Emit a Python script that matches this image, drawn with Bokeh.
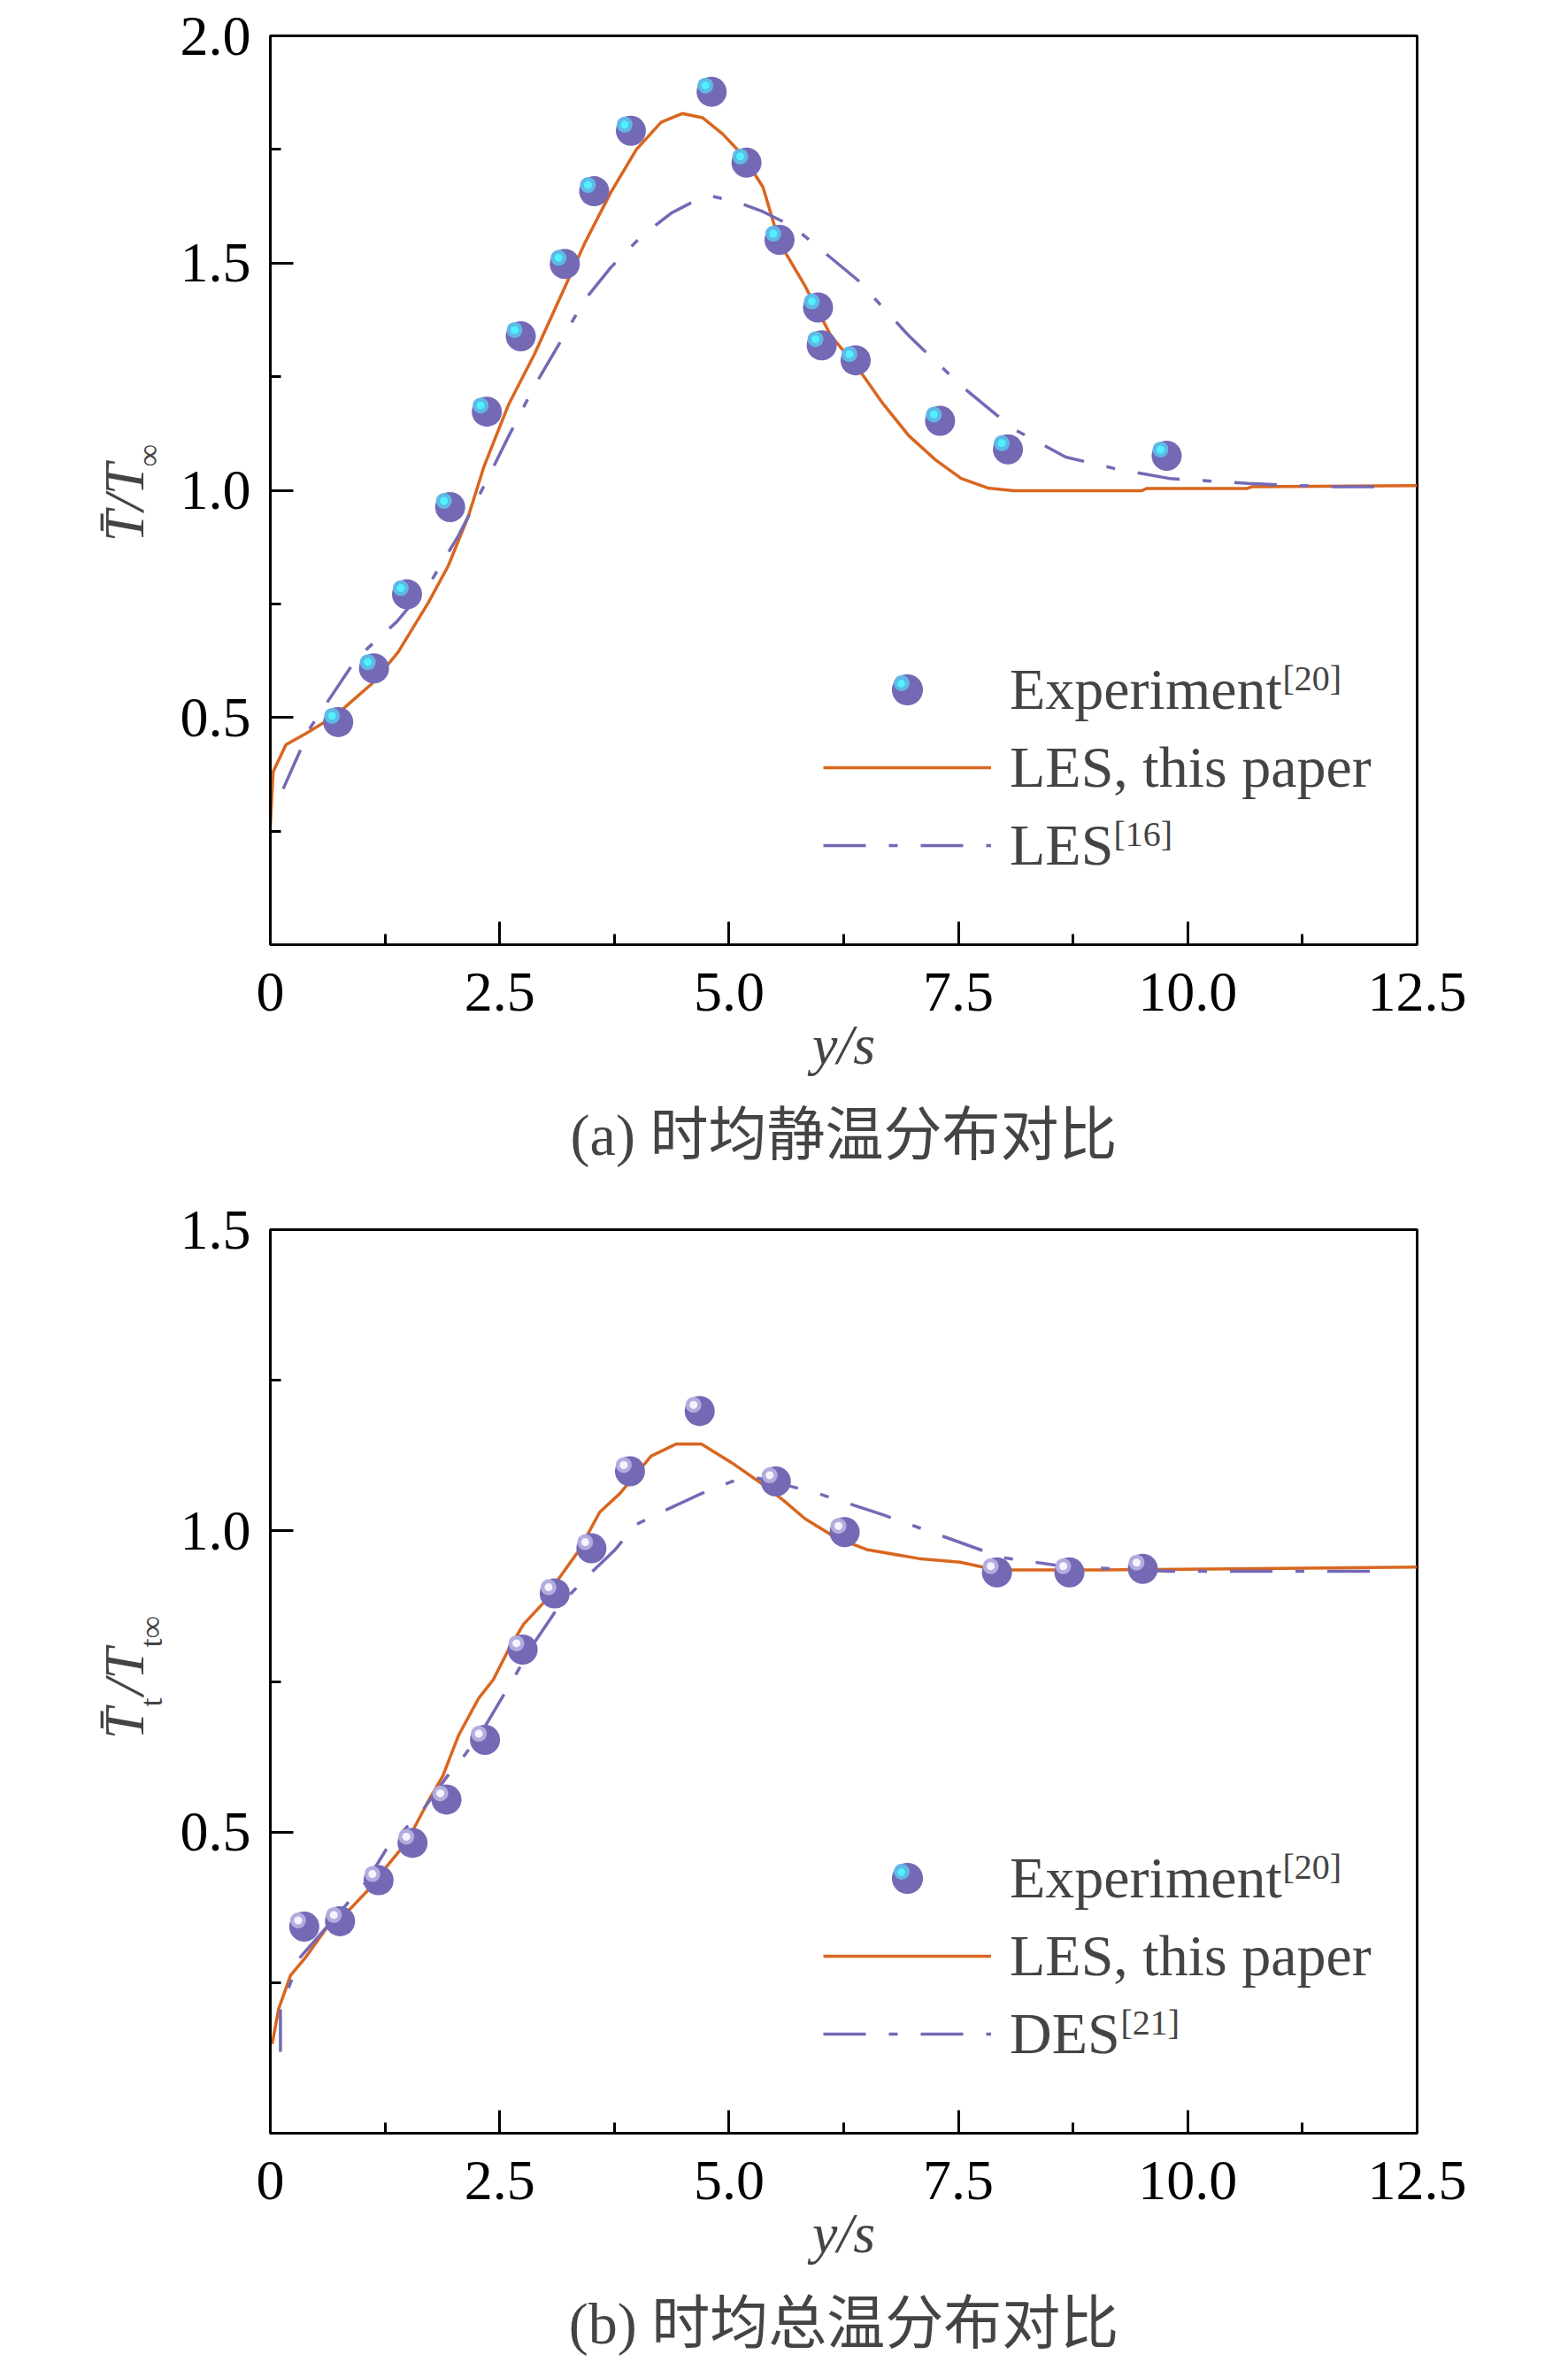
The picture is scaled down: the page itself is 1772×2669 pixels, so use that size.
import math
import bokeh.plotting as bplt
import bokeh.models as bmod
from bokeh.layouts import column, row
from bokeh.transform import dodge
from bokeh.embed import file_html
from bokeh.resources import INLINE

SERIF = "Liberation Serif"
CAPTION_FONT = "Liberation Serif, Noto Sans CJK SC"
ORANGE = "#d9661f"
PURPLE = "#7469b5"
LABEL_W = 200

# shared x axis
x_ticks = [0, 2.5, 5.0, 7.5, 10.0, 12.5]
x_tick_labels = ["0", "2.5", "5.0", "7.5", "10.0", "12.5"]
x_minor = [1.25, 3.75, 6.25, 8.75, 11.25]

# (a) static temperature
a_y_ticks = [0.5, 1.0, 1.5, 2.0]
a_y_tick_labels = ["0.5", "1.0", "1.5", "2.0"]
a_y_minor = [0.25, 0.75, 1.25, 1.75]
a_exp_x = [0.74, 1.13, 1.49, 1.96, 2.36, 2.73, 3.21, 3.53, 3.93, 4.81, 5.19, 5.55, 5.97, 6.01, 6.38, 7.30, 8.04, 9.77]
a_exp_y = [0.49, 0.608, 0.771, 0.963, 1.173, 1.339, 1.498, 1.658, 1.791, 1.877, 1.721, 1.551, 1.402, 1.319, 1.286, 1.153, 1.090, 1.076]
a_les_x = [0, 0.03, 0.17, 0.39, 0.72, 1.11, 1.39, 1.72, 1.94, 2.16, 2.33, 2.60, 2.88, 3.15, 3.43, 3.71, 3.99, 4.26,
           4.49, 4.71, 4.93, 5.15, 5.37, 5.55, 5.83, 6.11, 6.40, 6.68, 6.96, 7.25, 7.53, 7.82, 8.10, 9.50, 9.55,
           10.65, 10.70, 12.5]
a_les_y = [0.26, 0.38, 0.44, 0.465, 0.506, 0.575, 0.643, 0.752, 0.834, 0.944, 1.053, 1.19, 1.30, 1.42, 1.545,
           1.655, 1.75, 1.81, 1.829, 1.82, 1.784, 1.737, 1.667, 1.545, 1.449, 1.34, 1.27, 1.19, 1.12, 1.067,
           1.026, 1.005, 0.999, 0.999, 1.004, 1.004, 1.008, 1.01]
a_ref_x = [0.14, 0.44, 0.94, 1.38, 1.77, 2.05, 2.33, 2.60, 2.88, 3.16, 3.43, 3.71, 4.04, 4.37, 4.60, 4.82, 5.09,
           5.37, 5.70, 6.40, 6.96, 7.53, 8.10, 8.67, 9.24, 9.80, 10.66, 11.50, 12.24]
a_ref_y = [0.343, 0.479, 0.63, 0.711, 0.806, 0.90, 1.01, 1.12, 1.23, 1.326, 1.42, 1.49, 1.558, 1.61, 1.634,
           1.647, 1.634, 1.613, 1.58, 1.463, 1.34, 1.23, 1.135, 1.073, 1.046, 1.026, 1.015, 1.008, 1.008]

# (b) total temperature
b_y_ticks = [0.5, 1.0, 1.5]
b_y_tick_labels = ["0.5", "1.0", "1.5"]
b_y_minor = [0.25, 0.75, 1.25]
b_exp_x = [0.37, 0.76, 1.18, 1.55, 1.92, 2.34, 2.75, 3.10, 3.50, 3.92, 4.68, 5.51, 6.26, 7.92, 8.71, 9.51]
b_exp_y = [0.343, 0.352, 0.42, 0.482, 0.554, 0.653, 0.803, 0.896, 0.971, 1.099, 1.199, 1.082, 0.998, 0.931,
           0.931, 0.937]
b_les_x = [0.02, 0.09, 0.22, 0.39, 0.61, 0.83, 1.05, 1.27, 1.49, 1.72, 1.88, 2.05, 2.27, 2.43, 2.60, 2.76, 2.98,
           3.15, 3.37, 3.59, 3.81, 4.15, 4.42, 4.70, 5.03, 5.36, 5.59, 5.83, 6.16, 6.50, 7.07, 7.52, 7.91, 9.0,
           10.5, 12.5]
b_les_y = [0.148, 0.206, 0.262, 0.293, 0.34, 0.366, 0.401, 0.443, 0.484, 0.551, 0.593, 0.66, 0.722, 0.753,
           0.804, 0.845, 0.881, 0.922, 0.969, 1.031, 1.062, 1.124, 1.144, 1.144, 1.113, 1.078, 1.051, 1.02,
           0.989, 0.969, 0.954, 0.948, 0.935, 0.935, 0.937, 0.94]
b_ref_x = [0.11, 0.11, 0.33, 1.05, 1.27, 1.66, 1.93, 2.10, 2.32, 2.60, 2.88, 3.15, 3.48, 3.76, 3.98, 4.26, 4.70,
           5.03, 5.30, 5.93, 6.67, 7.24, 7.97, 8.65, 9.78, 10.91, 12.21]
b_ref_y = [0.135, 0.206, 0.293, 0.418, 0.473, 0.536, 0.593, 0.624, 0.67, 0.742, 0.815, 0.876, 0.928, 0.969,
           1.01, 1.031, 1.062, 1.082, 1.088, 1.064, 1.027, 0.996, 0.956, 0.941, 0.933, 0.933, 0.933]


def make_ylabel(parts, frame_height, border_top, border_bottom):
    # narrow strip left of the plot that carries the y title with its sub/superscripts
    fig = bplt.figure(
        frame_width=LABEL_W, frame_height=frame_height,
        x_axis_type=None, y_axis_type=None,
        output_backend="svg", toolbar_location=None,
        min_border_left=0, min_border_right=0,
        min_border_top=border_top, min_border_bottom=border_bottom,
    )
    fig.outline_line_color = None
    fig.xgrid.visible = False
    fig.ygrid.visible = False
    for txt, sx, sy, size, style in parts:
        fig.add_layout(bmod.Label(x=sx, y=sy, x_units="screen", y_units="screen", text=txt,
                                  angle=math.pi / 2, text_font=SERIF, text_font_size=size,
                                  text_font_style=style, text_baseline="middle", text_align="left"))
    return fig


def glint_legend(renderer, cx, cy, size):
    # a one-item legend used only to put the sphere highlight on the legend marker
    box = int(round(size / 0.4))
    return bmod.Legend(
        items=[bmod.LegendItem(label=" ", renderers=[renderer])],
        location=(cx - box // 2, cy - box // 2), glyph_width=box, glyph_height=box, label_height=box,
        label_standoff=0, label_width=0, spacing=0, padding=0, margin=0,
        border_line_color=None, background_fill_alpha=0, inactive_fill_alpha=0,
        label_text_font_size="1px",
    )


def make_panel(exp_x, exp_y, les_x, les_y, ref_x, ref_y, y_max, y_ticks, y_tick_labels, y_minor,
               ref_label, sups, caption, glint, ylabel_parts, frame_height, border_top, border_bottom):
    fig = bplt.figure(
        frame_width=1296, frame_height=frame_height,
        x_range=(0, 12.5), y_range=(0, y_max),
        output_backend="svg", toolbar_location=None,
        min_border_left=304 - LABEL_W, min_border_right=120,
        min_border_top=border_top, min_border_bottom=border_bottom,
    )
    fig.xgrid.visible = False
    fig.ygrid.visible = False
    fig.outline_line_color = "black"
    fig.outline_line_width = 3
    fig.outline_line_alpha = 1

    fig.xaxis.ticker = bmod.FixedTicker(ticks=x_ticks, minor_ticks=x_minor)
    fig.xaxis.major_label_overrides = dict(zip(x_ticks, x_tick_labels))
    fig.yaxis.ticker = bmod.FixedTicker(ticks=y_ticks, minor_ticks=y_minor)
    fig.yaxis.major_label_overrides = dict(zip(y_ticks, y_tick_labels))
    for ax in (fig.xaxis, fig.yaxis):
        ax.axis_line_width = 3
        ax.major_tick_in = 26
        ax.major_tick_out = 0
        ax.minor_tick_in = 12
        ax.minor_tick_out = 0
        ax.major_tick_line_width = 3
        ax.minor_tick_line_width = 3
        ax.major_label_text_font = SERIF
        ax.major_label_text_font_size = "64px"
        ax.major_label_text_color = "black"
    fig.xaxis.major_label_standoff = 32
    fig.yaxis.major_label_standoff = 22
    fig.xaxis.axis_label = "y/s"
    fig.xaxis.axis_label_text_font = SERIF
    fig.xaxis.axis_label_text_font_size = "64px"
    fig.xaxis.axis_label_text_font_style = "italic"
    fig.xaxis.axis_label_standoff = 0

    les = fig.line(les_x, les_y, line_color=ORANGE, line_width=3.5)
    ref = fig.line(ref_x, ref_y, line_color=PURPLE, line_width=3.5, line_dash="48 26 10 26")

    src = bmod.ColumnDataSource(dict(x=exp_x, y=exp_y))
    dx = -7 * 12.5 / 1296
    dy = 7 * y_max / frame_height
    dot = fig.scatter("x", "y", source=src, size=34, fill_color=PURPLE, line_color=None)
    fig.scatter(dodge("x", dx), dodge("y", dy), source=src, size=18, fill_color=glint[0], line_color=None)
    fig.scatter(dodge("x", dx), dodge("y", dy), source=src, size=9, fill_color=glint[1], line_color=None)

    legend = bmod.Legend(
        items=[
            bmod.LegendItem(label="Experiment", renderers=[dot]),
            bmod.LegendItem(label="LES, this paper", renderers=[les]),
            bmod.LegendItem(label=ref_label, renderers=[ref]),
        ],
        location=(625, 68), glyph_width=190, glyph_height=88, label_height=88,
        label_standoff=21, spacing=0, padding=0, margin=0,
        border_line_color=None, background_fill_alpha=0,
        label_text_font=SERIF, label_text_font_size="66px",
    )
    fig.add_layout(legend)

    # highlight of the legend sphere (legend marker centre is at 720, 288); hidden
    # renderers, so they only show up through their legends
    ring = fig.scatter("x", "y", source=src, size=18, fill_color="#5fb8e6", line_color=None, visible=False)
    core = fig.scatter("x", "y", source=src, size=9, fill_color="#50f0ff", line_color=None, visible=False)
    fig.add_layout(glint_legend(ring, 713, 295, 18))
    fig.add_layout(glint_legend(core, 713, 295, 9))

    # reference superscripts
    for txt, sx, sy in sups:
        fig.add_layout(bmod.Label(x=sx, y=sy, x_units="screen", y_units="screen", text=txt,
                                  text_font=SERIF, text_font_size="40px", text_baseline="middle"))

    fig.add_layout(bmod.Title(text=caption, align="center", text_font=CAPTION_FONT,
                              text_font_size="66px", text_font_style="normal", standoff=50), "below")

    side = make_ylabel(ylabel_parts, frame_height, border_top, border_bottom)
    return row(side, fig, spacing=0)


p1 = make_panel(
    a_exp_x, a_exp_y, a_les_x, a_les_y, a_ref_x, a_ref_y, 2.0,
    a_y_ticks, a_y_tick_labels, a_y_minor,
    "LES", [("[20]", 1144, 301), ("[16]", 953, 125)],
    "(a) 时均静温分布对比", ("#5fb8e6", "#50f0ff"),
    [("T\u0304/T", 140, 455, "64px", "italic"), ("∞", 167, 540, "36px", "normal")],
    1027, 40, 277,
)
p2 = make_panel(
    b_exp_x, b_exp_y, b_les_x, b_les_y, b_ref_x, b_ref_y, 1.5,
    b_y_ticks, b_y_tick_labels, b_y_minor,
    "DES", [("[20]", 1144, 301), ("[21]", 961, 125)],
    "(b) 时均总温分布对比", ("#b2acdf", "#f4f4ff"),
    [("T\u0304", 140, 445, "64px", "italic"), ("t", 170, 482, "36px", "normal"),
     ("/T", 140, 495, "64px", "italic"), ("t∞", 170, 549, "36px", "normal")],
    1021, 45, 250,
)

layout = column(p1, p2, spacing=0)
open("out.html", "w").write(file_html(layout, INLINE))
